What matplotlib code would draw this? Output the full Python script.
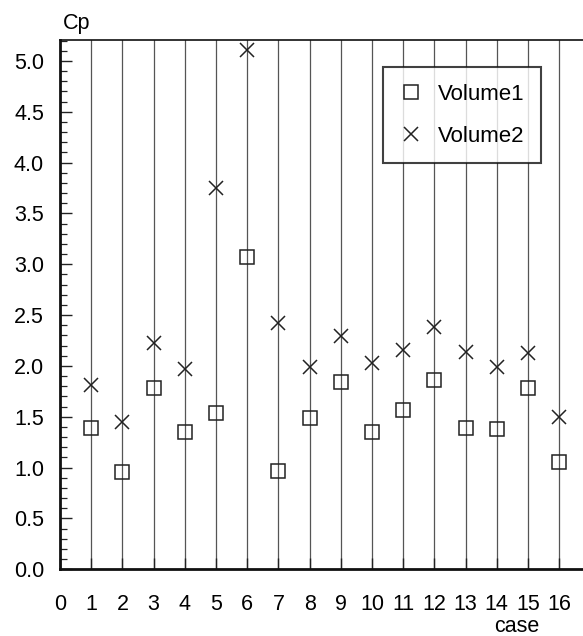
import matplotlib
matplotlib.use("Agg")
import matplotlib.pyplot as plt
from matplotlib.ticker import MultipleLocator

plt.rcParams['font.family'] = ['Liberation Sans', 'DejaVu Sans']

cases = list(range(1, 17))
volume1 = [1.39, 0.96, 1.78, 1.35, 1.54, 3.07, 0.97, 1.49, 1.84, 1.35, 1.57, 1.86, 1.39, 1.38, 1.78, 1.06]
volume2 = [1.81, 1.45, 2.23, 1.97, 3.75, 5.11, 2.42, 1.99, 2.29, 2.03, 2.16, 2.38, 2.14, 1.99, 2.13, 1.50]
xtick_labels = [str(i) for i in range(0, 17)]
ytick_values = [0.0, 0.5, 1.0, 1.5, 2.0, 2.5, 3.0, 3.5, 4.0, 4.5, 5.0]

W, H = 583, 636
fig = plt.figure(figsize=(W / 100, H / 100), dpi=100)
ax = fig.add_axes([60 / W, (H - 569.3) / H, 1 - 60 / W, (569.3 - 40) / H])

ax.set_xlim(0, 523 / 31.2)
ax.set_ylim(0, 5.205)

fs = 15.5
ax.plot(cases, volume1, linestyle='none', marker='s', markersize=10.5,
        markerfacecolor='none', markeredgecolor='#222222', markeredgewidth=1.1,
        label='Volume1', zorder=3)
ax.plot(cases, volume2, linestyle='none', marker='x', markersize=10.5,
        color='#222222', markeredgewidth=1.1, label='Volume2', zorder=3)

ax.set_xticks(range(0, 17))
ax.set_xticklabels(xtick_labels, fontsize=fs)
ax.set_yticks(ytick_values)
ax.set_yticklabels([f"{v:.1f}" for v in ytick_values], fontsize=fs)
ax.yaxis.set_minor_locator(MultipleLocator(0.1))

ax.tick_params(axis='y', which='major', direction='in', length=8.5, width=1.0, pad=11.5, color='#222222')
ax.tick_params(axis='y', which='minor', direction='in', length=5, width=0.9, color='#222222')
ax.tick_params(axis='x', which='major', direction='in', length=8, width=1.0, pad=17.5, color='#222222')

for x in cases:
    ax.axvline(x, color='#555555', linewidth=0.9, zorder=1)

ax.spines['left'].set_linewidth(2.0)
ax.spines['bottom'].set_linewidth(2.0)
ax.spines['top'].set_linewidth(1.2)
ax.spines['right'].set_visible(False)
for s in ax.spines.values():
    s.set_color('#111111')

leg = ax.legend(loc='upper left', bbox_to_anchor=(383 / W, 1 - 67 / H),
                bbox_transform=fig.transFigure, fontsize=16, frameon=True,
                fancybox=False, edgecolor='#111111', handlelength=1.0,
                handletextpad=0.72, borderpad=0.75, labelspacing=0.95,
                borderaxespad=0)
leg.get_frame().set_linewidth(1.5)

fig.text(63 / W, 1 - 24 / H, 'Cp', fontsize=fs, ha='left', va='center')
fig.text(517 / W, 1 - 632 / H, 'case', fontsize=fs, ha='center', va='baseline')

fig.savefig('out.png', dpi=100)
